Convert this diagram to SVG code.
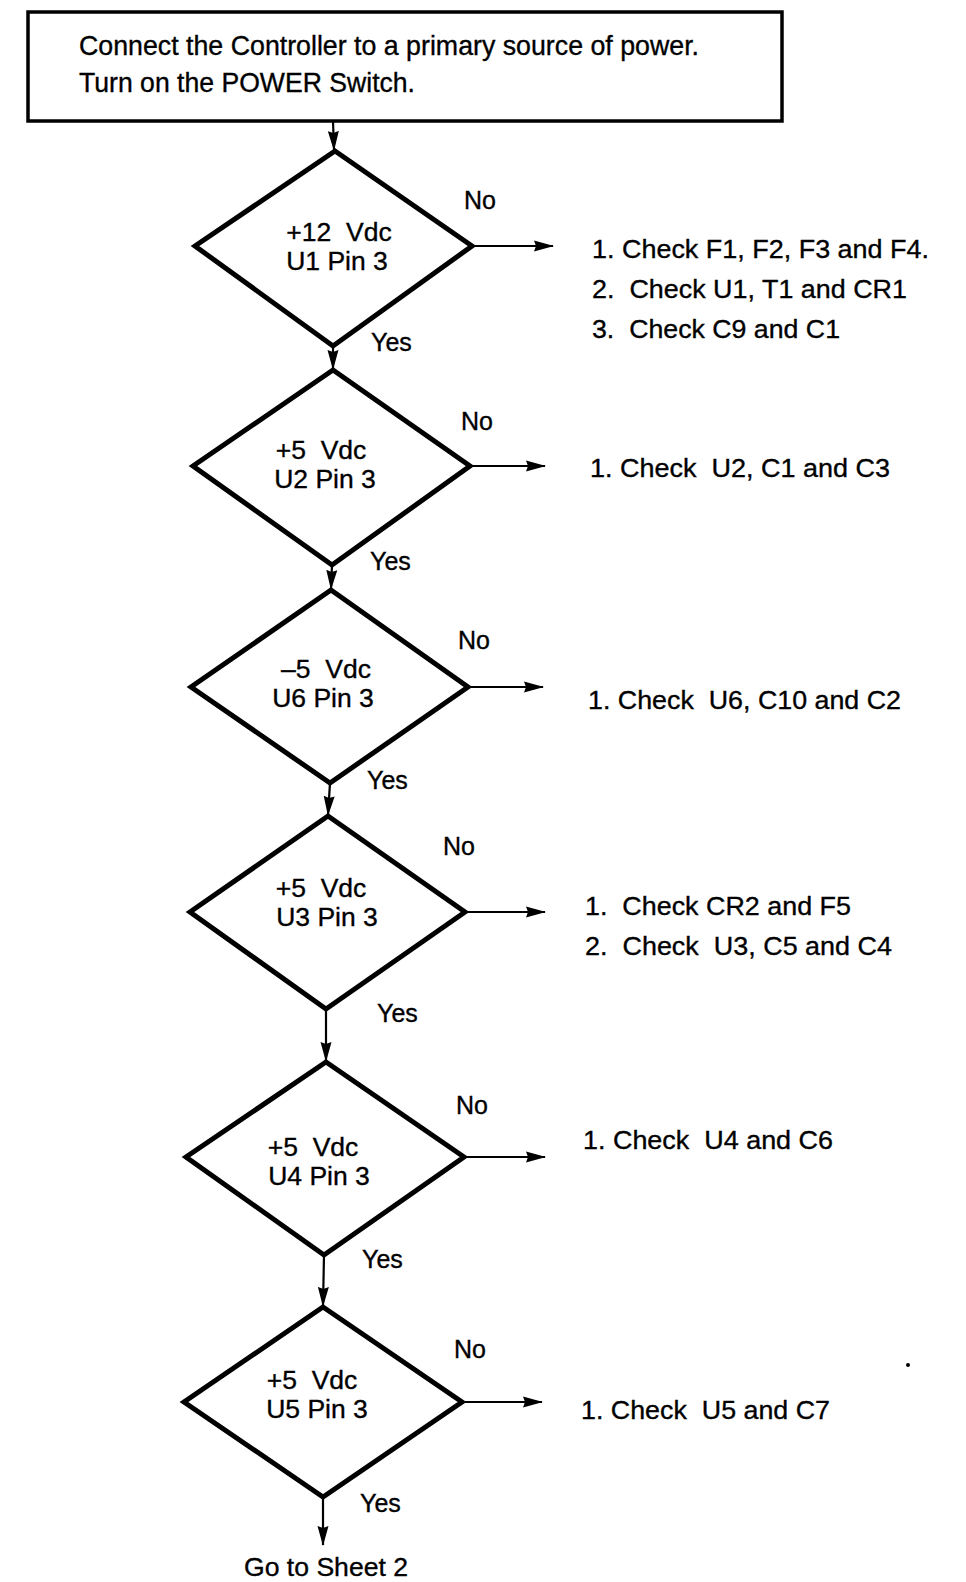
<svg xmlns="http://www.w3.org/2000/svg" width="966" height="1582" viewBox="0 0 966 1582">
<style>
text{font-family:"Liberation Sans",Arial,sans-serif;font-size:26.5px;fill:#000;stroke:#000;stroke-width:0.35px;white-space:pre}
.lbl{font-size:25px}
.big{font-size:27.5px}
.mid{text-anchor:middle}
.dia{fill:#fff;stroke:#000;stroke-width:5;stroke-linejoin:miter}
.box{fill:#fff;stroke:#000;stroke-width:3.5}
.con{stroke:#000;stroke-width:2.2;fill:none}
</style>
<defs>
<marker id="ah" markerUnits="userSpaceOnUse" markerWidth="20" markerHeight="12" refX="19" refY="6" orient="auto">
<path d="M0,0.5 L20,6 L0,11.5 L2,6 Z" fill="#000"/>
</marker>
</defs>
<rect width="966" height="1582" fill="#fff"/>
<g id="connectors">
<line class="con" x1="333" y1="121" x2="334" y2="150" marker-end="url(#ah)"/>
<line class="con" x1="333" y1="346" x2="333" y2="369" marker-end="url(#ah)"/>
<line class="con" x1="332" y1="565" x2="331" y2="589" marker-end="url(#ah)"/>
<line class="con" x1="330" y1="783" x2="328" y2="815" marker-end="url(#ah)"/>
<line class="con" x1="326" y1="1009" x2="326" y2="1061" marker-end="url(#ah)"/>
<line class="con" x1="324" y1="1255" x2="323" y2="1306" marker-end="url(#ah)"/>
<line class="con" x1="323" y1="1497" x2="323" y2="1545" marker-end="url(#ah)"/>
<line class="con" x1="472" y1="246" x2="553" y2="246" marker-end="url(#ah)"/>
<line class="con" x1="470" y1="466" x2="545" y2="466" marker-end="url(#ah)"/>
<line class="con" x1="468" y1="687" x2="543" y2="687" marker-end="url(#ah)"/>
<line class="con" x1="465" y1="912" x2="545" y2="912" marker-end="url(#ah)"/>
<line class="con" x1="464" y1="1157" x2="545" y2="1157" marker-end="url(#ah)"/>
<line class="con" x1="462" y1="1402" x2="542" y2="1402" marker-end="url(#ah)"/>
</g>
<g id="start">
<rect class="box" x="28" y="12" width="754" height="109"/>
<text class="big" x="79" y="55" textLength="620" lengthAdjust="spacingAndGlyphs">Connect the Controller to a primary source of power.</text>
<text class="big" x="79" y="92" textLength="336" lengthAdjust="spacingAndGlyphs">Turn on the POWER Switch.</text>
</g>
<g id="d1">
<polygon class="dia" points="335,151 472,246 333,346 195,246"/>
<text class="mid" x="339" y="241">+12  Vdc</text>
<text class="mid" x="337" y="270">U1 Pin 3</text>
<text class="lbl" x="464" y="209">No</text>
<text class="lbl" x="371" y="351">Yes</text>
<text x="592" y="258" textLength="337" lengthAdjust="spacingAndGlyphs">1. Check F1, F2, F3 and F4.</text>
<text x="592" y="298" textLength="315" lengthAdjust="spacingAndGlyphs">2.  Check U1, T1 and CR1</text>
<text x="592" y="338" textLength="248" lengthAdjust="spacingAndGlyphs">3.  Check C9 and C1</text>
</g>
<g id="d2">
<polygon class="dia" points="333,370 470,466 332,565 193,466"/>
<text class="mid" x="321" y="459">+5  Vdc</text>
<text class="mid" x="325" y="488">U2 Pin 3</text>
<text class="lbl" x="461" y="430">No</text>
<text class="lbl" x="370" y="570">Yes</text>
<text x="590" y="477" textLength="300" lengthAdjust="spacingAndGlyphs">1. Check  U2, C1 and C3</text>
</g>
<g id="d3">
<polygon class="dia" points="331,590 468,687 330,783 191,687"/>
<text class="mid" x="326" y="678">–5  Vdc</text>
<text class="mid" x="323" y="707">U6 Pin 3</text>
<text class="lbl" x="458" y="649">No</text>
<text class="lbl" x="367" y="789">Yes</text>
<text x="588" y="709" textLength="313" lengthAdjust="spacingAndGlyphs">1. Check  U6, C10 and C2</text>
</g>
<g id="d4">
<polygon class="dia" points="328,816 465,912 326,1009 190,912"/>
<text class="mid" x="321" y="897">+5  Vdc</text>
<text class="mid" x="327" y="926">U3 Pin 3</text>
<text class="lbl" x="443" y="855">No</text>
<text class="lbl" x="377" y="1022">Yes</text>
<text x="585" y="915" textLength="266" lengthAdjust="spacingAndGlyphs">1.  Check CR2 and F5</text>
<text x="585" y="955" textLength="307" lengthAdjust="spacingAndGlyphs">2.  Check  U3, C5 and C4</text>
</g>
<g id="d5">
<polygon class="dia" points="326,1062 464,1157 324,1255 186,1157"/>
<text class="mid" x="313" y="1156">+5  Vdc</text>
<text class="mid" x="319" y="1185">U4 Pin 3</text>
<text class="lbl" x="456" y="1114">No</text>
<text class="lbl" x="362" y="1268">Yes</text>
<text x="583" y="1149" textLength="250" lengthAdjust="spacingAndGlyphs">1. Check  U4 and C6</text>
</g>
<g id="d6">
<polygon class="dia" points="323,1307 462,1402 323,1497 184,1402"/>
<text class="mid" x="312" y="1389">+5  Vdc</text>
<text class="mid" x="317" y="1418">U5 Pin 3</text>
<text class="lbl" x="454" y="1358">No</text>
<text class="lbl" x="360" y="1512">Yes</text>
<text x="581" y="1419" textLength="249" lengthAdjust="spacingAndGlyphs">1. Check  U5 and C7</text>
</g>
<g id="end">
<text class="mid" x="326" y="1576" textLength="164" lengthAdjust="spacingAndGlyphs">Go to Sheet 2</text>
</g>
<circle cx="908" cy="1365" r="2" fill="#000"/>
</svg>
